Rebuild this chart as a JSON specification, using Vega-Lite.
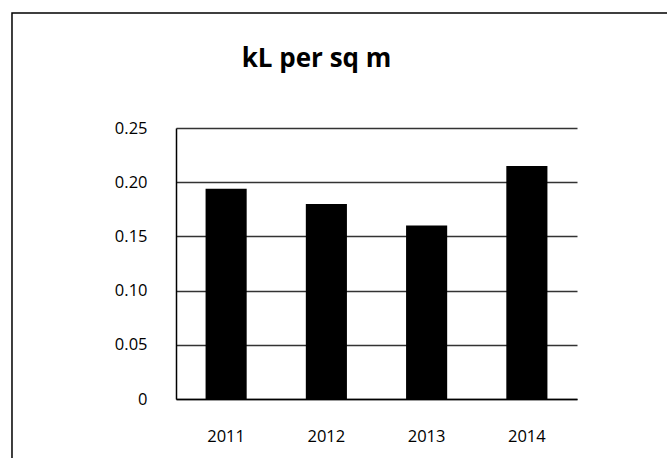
{
  "$schema": "https://vega.github.io/schema/vega-lite/v6.json",
  "autosize": {"type": "none"},
  "width": 401,
  "height": 271,
  "padding": {"left": 176, "top": 128, "right": 90, "bottom": 59},
  "background": "#ffffff",
  "config": {
    "view": {"stroke": null},
    "font": "Open Sans"
  },
  "title": {
    "text": "kL per sq m",
    "font": "Open Sans",
    "fontSize": 26,
    "fontWeight": "bold",
    "color": "#000000",
    "anchor": "middle",
    "frame": "group",
    "baseline": "alphabetic",
    "dx": -60,
    "offset": -80.5
  },
  "resolve": {"scale": {"x": "independent"}, "axis": {"x": "independent"}},
  "layer": [
    {
      "data": {"values": [{"top": 0.3561, "bottom": -0.2, "left": -0.409, "right": 1.6}]},
      "mark": {"type": "rect", "fill": null, "stroke": "#000000", "strokeWidth": 1.5},
      "encoding": {
        "x": {"field": "left", "type": "quantitative", "scale": {"domain": [0, 1], "nice": false, "zero": false}, "axis": null},
        "x2": {"field": "right"},
        "y": {"field": "top", "type": "quantitative", "scale": {"domain": [0, 0.25], "nice": false}},
        "y2": {"field": "bottom"}
      }
    },
    {
      "data": {
        "values": [
          {"year": "2011", "value": 0.194},
          {"year": "2012", "value": 0.180},
          {"year": "2013", "value": 0.160},
          {"year": "2014", "value": 0.215}
        ]
      },
      "mark": {"type": "bar", "color": "#000000"},
      "encoding": {
        "x": {
          "field": "year",
          "type": "nominal",
          "scale": {"paddingInner": 0.59, "paddingOuter": 0.295},
          "axis": {
            "title": null,
            "labelAngle": 0,
            "labelFont": "Open Sans",
            "labelFontSize": 16.5,
            "labelColor": "#000000",
            "labelBaseline": "alphabetic",
            "labelPadding": 42,
            "ticks": false,
            "domainColor": "#000000",
            "domainWidth": 1.5
          }
        },
        "y": {
          "field": "value",
          "type": "quantitative",
          "scale": {"domain": [0, 0.25], "nice": false},
          "axis": {
            "title": null,
            "values": [0, 0.05, 0.1, 0.15, 0.2, 0.25],
            "labelExpr": "datum.value == 0 ? '0' : format(datum.value, '.2f')",
            "labelFont": "Open Sans",
            "labelFontSize": 16.5,
            "labelColor": "#000000",
            "labelPadding": 29,
            "ticks": false,
            "domainColor": "#000000",
            "domainWidth": 1.5,
            "grid": true,
            "gridColor": "#333333",
            "gridWidth": 1.3
          }
        }
      }
    }
  ]
}
